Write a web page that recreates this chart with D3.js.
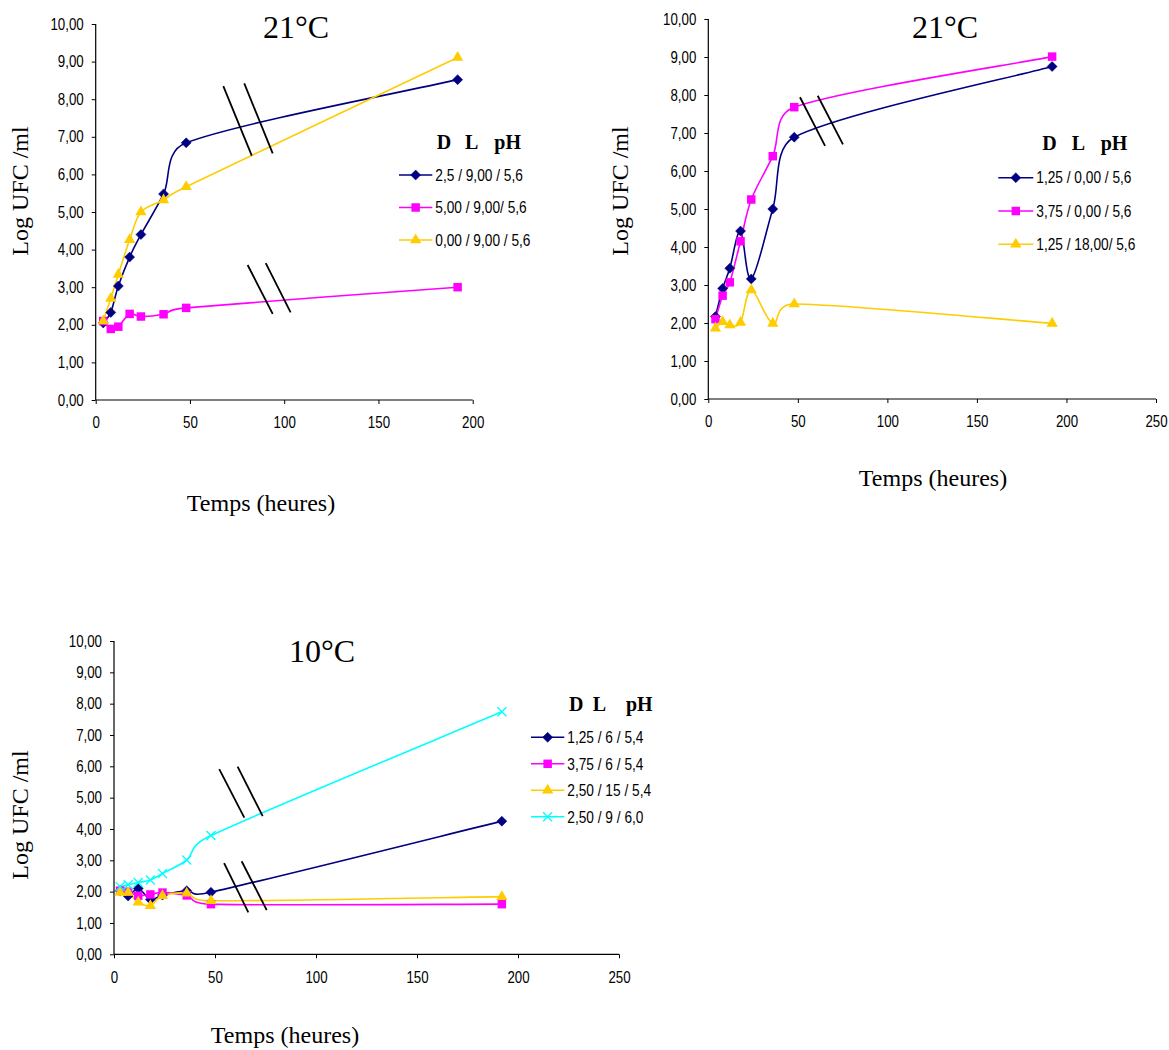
<!DOCTYPE html>
<html>
<head>
<meta charset="utf-8">
<script src="https://cdn.jsdelivr.net/npm/d3@7"></script>
<style>
  html, body { margin: 0; padding: 0; background: #fff; }
  svg { display: block; }
  .tick-label { font-family: "Liberation Sans Narrow", "Arial Narrow", "Liberation Sans", sans-serif; font-size: 16px; fill: #000; }
  .legend-label { font-family: "Liberation Sans Narrow", "Arial Narrow", "Liberation Sans", sans-serif; font-size: 16.5px; fill: #000; }
  .serif { font-family: "Liberation Serif", "Times New Roman", serif; fill: #000; }
</style>
</head>
<body>
<script>
// ---------------- DATA ----------------
const yTicks = [0, 1, 2, 3, 4, 5, 6, 7, 8, 9, 10];
const xTicks200 = [0, 50, 100, 150, 200];
const xTicks250 = [0, 50, 100, 150, 200, 250];

// Chart 1 (21 °C)
const hours1 = [4, 8, 12, 18, 24, 36, 48, 192];
const c1_D25_L9 = [2.05, 2.33, 3.03, 3.80, 4.40, 5.48, 6.84, 8.52];
const c1_D5_L9 = [2.10, 1.89, 1.95, 2.29, 2.22, 2.28, 2.45, 3.00];
const c1_D0_L9 = [2.10, 2.70, 3.34, 4.26, 5.00, 5.32, 5.67, 9.11];
const legend1 = ["2,5 / 9,00 / 5,6", "5,00 / 9,00/ 5,6", "0,00 / 9,00 / 5,6"];
const breaks1 = [[67.7, 8.35, 82.8, 6.50], [78.8, 8.42, 93.9, 6.56], [80.6, 3.59, 93.9, 2.29], [90.2, 3.64, 103.4, 2.33]];

// Chart 2 (21 °C)
const hours2 = [4, 8, 12, 18, 24, 36, 48, 192];
const c2_D125_L0 = [2.17, 2.91, 3.44, 4.42, 3.16, 5.00, 6.89, 8.75];
const c2_D375_L0 = [2.10, 2.72, 3.07, 4.15, 5.25, 6.39, 7.68, 9.01];
const c2_D125_L18 = [1.86, 2.03, 1.95, 2.01, 2.87, 1.99, 2.50, 1.99];
const legend2 = ["1,25 / 0,00 / 5,6", "3,75 / 0,00 / 5,6", "1,25 / 18,00/ 5,6"];
const breaks2 = [[51.2, 7.94, 65.2, 6.66], [61.1, 7.98, 75.2, 6.70]];

// Chart 3 (10 °C)
const hours3 = [3, 7, 12, 18, 24, 36, 48, 192];
const c3_D125_L6 = [2.03, 1.86, 2.10, 1.75, 1.89, 2.03, 1.98, 4.25];
const c3_D375_L6 = [2.03, 2.00, 1.87, 1.91, 1.97, 1.88, 1.60, 1.60];
const c3_D25_L15 = [1.97, 1.97, 1.66, 1.55, 1.87, 1.95, 1.71, 1.84];
const c3_D25_L9_pH6 = [2.16, 2.22, 2.29, 2.37, 2.58, 3.01, 3.79, 7.74];
const legend3 = ["1,25 / 6 / 5,4", "3,75 / 6 / 5,4", "2,50 / 15 / 5,4", "2,50 / 9 / 6,0"];
const breaks3 = [[52.1, 5.91, 64.5, 4.36], [61.2, 5.99, 73.6, 4.41], [54.5, 2.91, 66.5, 1.34], [63.2, 2.97, 75.6, 1.41]];

const titles = ["21°C", "21°C", "10°C"];
const yLabel = "Log UFC /ml";
const xLabel = "Temps (heures)";
const legendHeader = ["D", "L", "pH"];

// ---------------- STYLE ----------------
const styles = {
  diamond: { color: "#000080" },
  square: { color: "#FF00FF" },
  triangle: { color: "#FFCC00" },
  cross: { color: "#00FFFF" }
};
const NARROW = 0.83; // emulate Arial Narrow width

const svg = d3.select("body").append("svg").attr("width", 1169).attr("height", 1050);
const fmt = v => d3.format(".2f")(v).replace(".", ",");

function narrow(sel) {
  sel.each(function () {
    const len = this.getComputedTextLength();
    if (len > 0) d3.select(this).attr("textLength", len * NARROW).attr("lengthAdjust", "spacingAndGlyphs");
  });
}

// Spreadsheet-style smoothed line: Catmull-Rom tangents, clamped so the
// Bezier control points never pass beyond the neighbouring point in x.
function smoothPath(pts) {
  const p = d3.path();
  const n = pts.length;
  p.moveTo(pts[0][0], pts[0][1]);
  for (let i = 0; i < n - 1; i++) {
    const P0 = pts[Math.max(i - 1, 0)], P1 = pts[i], P2 = pts[i + 1], P3 = pts[Math.min(i + 2, n - 1)];
    let t1 = [(P2[0] - P0[0]) / 6, (P2[1] - P0[1]) / 6];
    let t2 = [(P3[0] - P1[0]) / 6, (P3[1] - P1[1]) / 6];
    const seg = P2[0] - P1[0];
    if (t1[0] > seg) { const k = seg / t1[0]; t1 = [t1[0] * k, t1[1] * k]; }
    if (t2[0] > seg) { const k = seg / t2[0]; t2 = [t2[0] * k, t2[1] * k]; }
    p.bezierCurveTo(P1[0] + t1[0], P1[1] + t1[1], P2[0] - t2[0], P2[1] - t2[1], P2[0], P2[1]);
  }
  return p.toString();
}

function drawMarker(g, type, x, y) {
  const c = styles[type].color;
  if (type === "diamond") {
    g.append("path").attr("d", d3.symbol(d3.symbolSquare, 50)())
      .attr("transform", `translate(${x},${y}) rotate(45)`).attr("fill", c).attr("stroke", c).attr("stroke-width", 0.5);
  } else if (type === "square") {
    g.append("path").attr("d", d3.symbol(d3.symbolSquare, 72)())
      .attr("transform", `translate(${x},${y})`).attr("fill", c);
  } else if (type === "triangle") {
    g.append("path").attr("d", d3.symbol(d3.symbolTriangle, 55)())
      .attr("transform", `translate(${x},${y})`).attr("fill", c);
  } else if (type === "cross") {
    g.append("path").attr("d", "M-4.5,-4.5L4.5,4.5M-4.5,4.5L4.5,-4.5")
      .attr("transform", `translate(${x},${y})`).attr("stroke", c).attr("stroke-width", 1.3).attr("fill", "none");
  }
}

function drawChart(cfg) {
  const x = d3.scaleLinear().domain(cfg.xDomain).range(cfg.xRange);
  const y = d3.scaleLinear().domain([0, 10]).range(cfg.yRange);
  const g = svg.append("g");

  // axes
  const yAxis = d3.axisLeft(y).tickValues(yTicks).tickSize(4).tickPadding(8).tickFormat(fmt);
  const ya = g.append("g").attr("transform", `translate(${cfg.xRange[0]},0)`).call(yAxis);
  const xAxis = d3.axisBottom(x).tickValues(cfg.xTicks).tickSize(4).tickPadding(13).tickFormat(d3.format("d"));
  const xa = g.append("g").attr("transform", `translate(0,${cfg.yRange[0]})`).call(xAxis);
  [ya, xa].forEach(a => {
    a.select(".domain").attr("stroke", "#000").attr("stroke-width", 1.2);
    a.selectAll(".tick line").attr("stroke", "#000").attr("stroke-width", 1);
    a.selectAll(".tick text").attr("class", "tick-label").attr("font-family", null).attr("font-size", null).call(narrow);
  });
  ya.select(".domain").attr("d", `M0,${cfg.yRange[0]}V${cfg.yRange[1]}`);
  xa.select(".domain").attr("d", `M${cfg.xRange[0]},0H${cfg.xRange[1]}`);

  // series
  cfg.series.forEach(s => {
    const pts = cfg.hours.map((h, i) => [x(h), y(s.values[i])]);
    g.append("path").attr("d", smoothPath(pts)).attr("fill", "none")
      .attr("stroke", styles[s.type].color).attr("stroke-width", 1.6);
  });
  cfg.series.forEach(s => {
    cfg.hours.forEach((h, i) => drawMarker(g, s.type, x(h), y(s.values[i])));
  });

  // break marks
  cfg.breaks.forEach(b => {
    g.append("line").attr("x1", x(b[0])).attr("y1", y(b[1])).attr("x2", x(b[2])).attr("y2", y(b[3]))
      .attr("stroke", "#000").attr("stroke-width", 1.8);
  });

  // title
  g.append("text").attr("class", "serif").attr("x", cfg.title[0]).attr("y", cfg.title[1])
    .attr("text-anchor", "middle").attr("font-size", 32).text(cfg.titleText);
  // y label
  g.append("text").attr("class", "serif").attr("transform", `translate(${cfg.yLab[0]},${cfg.yLab[1]}) rotate(-90)`)
    .attr("text-anchor", "middle").attr("font-size", 24).text(yLabel);
  // x label
  g.append("text").attr("class", "serif").attr("x", cfg.xLab[0]).attr("y", cfg.xLab[1])
    .attr("text-anchor", "middle").attr("font-size", 24).text(xLabel);

  // legend
  const L = cfg.legend;
  legendHeader.forEach((t, i) => {
    g.append("text").attr("class", "serif").attr("x", L.x0 + L.head[i]).attr("y", L.headY)
      .attr("font-size", 20).attr("font-weight", "bold").text(t);
  });
  cfg.series.forEach((s, i) => {
    const yy = L.y0 + i * L.dy;
    g.append("line").attr("x1", L.x0).attr("x2", L.x0 + L.w).attr("y1", yy).attr("y2", yy)
      .attr("stroke", styles[s.type].color).attr("stroke-width", 1.6);
    drawMarker(g, s.type, L.x0 + L.w / 2, yy);
    g.append("text").attr("class", "legend-label").attr("x", L.x0 + L.w + 3).attr("y", yy)
      .attr("dy", "0.35em").text(cfg.labels[i]).call(narrow);
  });
}

drawChart({
  xDomain: [0, 200], xRange: [95.7, 472.7], yRange: [400, 24], xTicks: xTicks200,
  hours: hours1,
  series: [{ type: "diamond", values: c1_D25_L9 }, { type: "square", values: c1_D5_L9 }, { type: "triangle", values: c1_D0_L9 }],
  labels: legend1, breaks: breaks1, titleText: titles[0],
  title: [296, 37.7], yLab: [28, 191], xLab: [261, 511],
  legend: { x0: 399, w: 33.3, y0: 175, dy: 32.5, head: [37.7, 66, 95.3], headY: 149 }
});

drawChart({
  xDomain: [0, 250], xRange: [708.3, 1156], yRange: [399, 19], xTicks: xTicks250,
  hours: hours2,
  series: [{ type: "diamond", values: c2_D125_L0 }, { type: "square", values: c2_D375_L0 }, { type: "triangle", values: c2_D125_L18 }],
  labels: legend2, breaks: breaks2, titleText: titles[1],
  title: [945, 38.3], yLab: [628, 191], xLab: [933, 486],
  legend: { x0: 998.3, w: 35, y0: 177.7, dy: 33.3, head: [44, 73.4, 102.4], headY: 150 }
});

drawChart({
  xDomain: [0, 250], xRange: [114, 619], yRange: [954.3, 641], xTicks: xTicks250,
  hours: hours3,
  series: [{ type: "diamond", values: c3_D125_L6 }, { type: "square", values: c3_D375_L6 }, { type: "triangle", values: c3_D25_L15 }, { type: "cross", values: c3_D25_L9_pH6 }],
  labels: legend3, breaks: breaks3, titleText: titles[2],
  title: [322, 662.3], yLab: [28, 815], xLab: [285, 1043],
  legend: { x0: 531, w: 33.3, y0: 737.3, dy: 26.5, head: [38, 61.7, 95], headY: 710.7 }
});
</script>
</body>
</html>
